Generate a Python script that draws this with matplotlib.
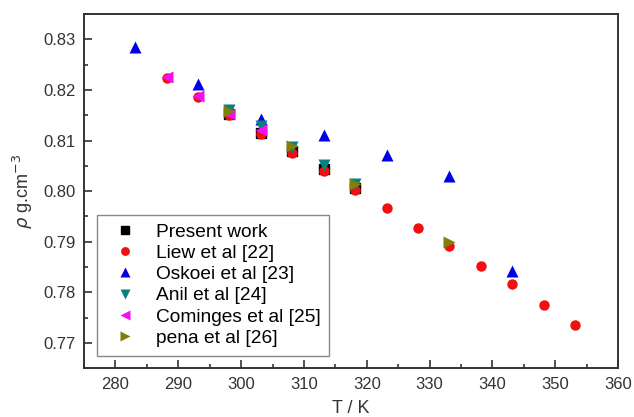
import numpy as np
import matplotlib.pyplot as plt
from matplotlib.ticker import MultipleLocator

plt.rcParams['font.family'] = ['Liberation Sans', 'DejaVu Sans']

# data (T in K, density in g/cm3)
T_present = [298.15, 303.15, 308.15, 313.15, 318.15]
rho_present = [0.8152, 0.8116, 0.8080, 0.8044, 0.8006]

T_liew = [288.15, 293.15, 298.15, 303.15, 308.15, 313.15, 318.15,
          323.15, 328.15, 333.15, 338.15, 343.15, 348.15, 353.15]
rho_liew = [0.8223, 0.8187, 0.8150, 0.8114, 0.8075, 0.8040, 0.8002,
            0.7966, 0.7928, 0.7892, 0.7853, 0.7816, 0.7775, 0.7736]

T_oskoei = [283.15, 293.15, 303.15, 313.15, 323.15, 333.15, 343.15]
rho_oskoei = [0.8285, 0.8212, 0.8142, 0.8111, 0.8071, 0.8031, 0.7843]

T_anil = [298.15, 303.15, 308.15, 313.15, 318.15]
rho_anil = [0.8160, 0.8129, 0.8088, 0.8052, 0.8015]

T_cominges = [288.15, 293.15, 298.15, 303.15]
rho_cominges = [0.8225, 0.8188, 0.8152, 0.8121]

T_pena = [298.15, 308.15, 318.15, 333.15]
rho_pena = [0.8158, 0.8089, 0.8014, 0.7900]

fig = plt.figure(figsize=(6.34, 4.17), dpi=100)
ax = fig.add_axes([0.1325, 0.117, 0.8425, 0.849])

ms = 7.5
ax.plot(T_present, rho_present, 's', color='black', ms=ms - 1, label='Present work')
ax.plot(T_liew, rho_liew, 'o', color='#f01010', ms=ms, mec='none', label='Liew et al [22]')
ax.plot(T_oskoei, rho_oskoei, '^', color='#0000e6', ms=ms + 1, mec='none', label='Oskoei et al [23]')
ax.plot(T_anil, rho_anil, 'v', color='#0a7f80', ms=ms + 1, mec='none', label='Anil et al [24]')
ax.plot(T_cominges, rho_cominges, '<', color='#f010f0', ms=ms + 1, mec='none', label='Cominges et al [25]')
ax.plot(T_pena, rho_pena, '>', color='#7f7f0a', ms=ms + 1, mec='none', label='pena et al [26]')

ax.set_xlim(275, 360)
ax.set_ylim(0.765, 0.835)
ax.xaxis.set_major_locator(MultipleLocator(10))
ax.xaxis.set_minor_locator(MultipleLocator(5))
ax.yaxis.set_major_locator(MultipleLocator(0.01))
ax.yaxis.set_minor_locator(MultipleLocator(0.005))
ax.yaxis.set_major_formatter(plt.FormatStrFormatter('%.2f'))
ax.tick_params(which='both', direction='in', labelsize=12, colors='#333333', width=1.2)
ax.tick_params(which='major', length=6, pad=6)
ax.tick_params(which='minor', length=3)
for s in ax.spines.values():
    s.set_linewidth(1.4)
    s.set_color('#333333')

ax.set_xlabel('T / K', fontsize=13, color='#333333', labelpad=6)
ax.set_ylabel(r'$\rho$ g.cm$^{-3}$', fontsize=13, color='#333333', labelpad=6)

leg = ax.legend(loc='lower left', bbox_to_anchor=(0.018, 0.025), fontsize=13.8,
                fancybox=False, framealpha=1, edgecolor='#888888',
                handletextpad=0.6, borderpad=0.45, labelspacing=0.2,
                handlelength=2.0, borderaxespad=0.2, markerscale=0.85)
leg.get_frame().set_linewidth(1.0)

plt.savefig('out.png', dpi=100)
